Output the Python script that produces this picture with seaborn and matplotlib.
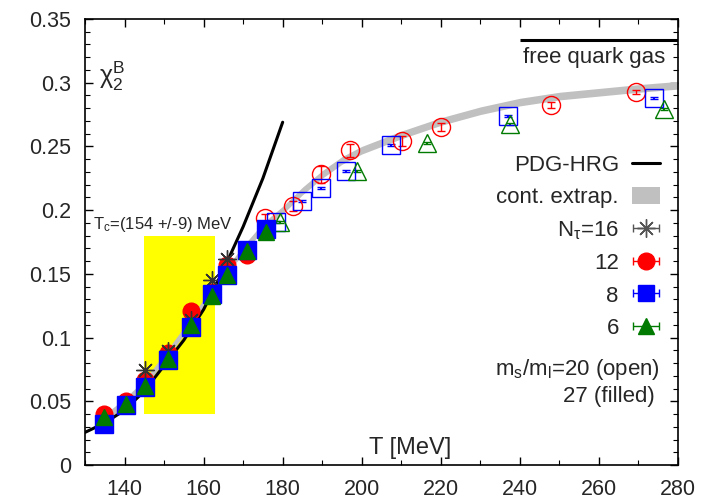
import numpy as np
import matplotlib
matplotlib.use("Agg")
import matplotlib.pyplot as plt
import seaborn as sns
from matplotlib.lines import Line2D
from matplotlib.patches import Patch
from matplotlib.legend_handler import HandlerErrorbar
from matplotlib.ticker import MultipleLocator

# PDG-HRG curve
hrg_T = [130, 135, 140, 145, 150, 155, 160, 165, 170, 175, 180]
hrg_chi = [0.0256, 0.033, 0.043, 0.058, 0.078, 0.098, 0.122, 0.153, 0.187, 0.225, 0.269]

# continuum extrapolation (band)
cont_T = [133, 135, 140, 145, 150, 155, 160, 165, 170, 175, 180, 185, 190, 195,
          200, 210, 220, 230, 240, 250, 260, 270, 280]
cont_chi = [0.033, 0.037, 0.049, 0.064, 0.084, 0.105, 0.127, 0.149, 0.169, 0.187,
            0.200, 0.215, 0.228, 0.239, 0.247, 0.259, 0.2695, 0.278, 0.2848,
            0.2895, 0.2925, 0.2955, 0.298]
cont_half = 0.003

# ms/ml = 27 (filled)
T27 = [134.7, 140.3, 145.1, 150.9, 156.8, 162.2, 166.0, 170.9, 175.7]
chi12_27 = [0.040, 0.050, 0.067, 0.088, 0.121, 0.136, 0.157, 0.165]
chi8_27 = [0.032, 0.047, 0.061, 0.0825, 0.108, 0.134, 0.149, 0.169, 0.185]
chi6_27 = [0.038, 0.048, 0.062, 0.083, 0.110, 0.133, 0.149, 0.168, 0.183]
T16 = [145.1, 150.9, 156.8, 162.0, 166.0]
chi16 = [0.0744, 0.0895, 0.114, 0.145, 0.162]

# ms/ml = 20 (open)
T12_20 = [175.5, 182.6, 189.6, 197.0, 210.2, 220.0, 247.8, 269.4]
chi12_20 = [0.194, 0.203, 0.228, 0.247, 0.2545, 0.265, 0.2825, 0.293]
err12_20 = [0.003, 0.004, 0.0065, 0.005, 0.004, 0.003, 0.002, 0.0015]
T8_20 = [178.3, 184.9, 189.6, 196.0, 207.3, 237.1, 273.9]
chi8_20 = [0.191, 0.207, 0.217, 0.231, 0.251, 0.274, 0.288]
T6_20 = [179.2, 198.7, 216.4, 237.6, 276.4]
chi6_20 = [0.191, 0.231, 0.253, 0.2675, 0.279]

# Tc band and free gas limit
Tc, dTc = 154, 9
tc_box = (0.04, 0.18)
sb_limit = 1 / 3
sb_T = (240, 280)

red, blue, green = "#ff0000", "#0000ff", "#007a00"
star = (8, 2, 0)

sns.set_style("ticks", {"xtick.direction": "in", "ytick.direction": "in"})
plt.rcParams["font.family"] = ["Liberation Sans", "DejaVu Sans"]
plt.rcParams["mathtext.default"] = "regular"

fig = plt.figure(figsize=(7.12, 5.01), dpi=100)
ax = fig.add_axes([85 / 712, 1 - 465 / 501, 593 / 712, 446 / 501])

ax.fill_between([Tc - dTc, Tc + dTc], tc_box[0], tc_box[1], color="#ffff00",
                lw=0, zorder=1)
lo = np.array(cont_chi) - cont_half
hi = np.array(cont_chi) + cont_half
ax.fill_between(cont_T, lo, hi, color="#c0c0c0", lw=0, zorder=2)
sns.lineplot(x=hrg_T, y=hrg_chi, ax=ax, color="black", lw=2.2, zorder=3)
ax.hlines(sb_limit, sb_T[0], sb_T[1], color="black", lw=2.2)

# open points
ax.errorbar(T12_20, chi12_20, yerr=err12_20, fmt="o", ms=13, mfc="none",
            mec=red, mew=1.0, color=red, elinewidth=1, capsize=3, zorder=4)
ax.errorbar(T8_20, chi8_20, yerr=0.0008, fmt="s", ms=13, mfc="none",
            mec=blue, mew=1.0, color=blue, elinewidth=1.5, capsize=3, zorder=4)
ax.errorbar(T6_20, chi6_20, yerr=0.0008, fmt="^", ms=13, mfc="none",
            mec=green, mew=1.0, color=green, elinewidth=1.5, capsize=3, zorder=4)

# filled points
ax.errorbar(T27[:len(chi12_27)], chi12_27, yerr=0.001, fmt="o", ms=12,
            color=red, capsize=2, zorder=5)
ax.plot(T16, chi16, ls="none", marker=star, ms=13, mew=1.0,
        color="#333333", zorder=6)
ax.errorbar(T27, chi8_27, yerr=0.001, fmt="s", ms=12.5, color=blue,
            capsize=2, zorder=7)
ax.errorbar(T27, chi6_27, yerr=0.001, fmt="^", ms=12, color=green,
            capsize=2, zorder=8)

# legend proxies
h_hrg = Line2D([], [], color="black", lw=2.2)
h_cont = Patch(color="#c0c0c0", lw=0)
h16 = ax.errorbar([np.nan], [np.nan], xerr=[1], ls="none", marker=star, ms=13,
                  color="#555555", mew=1.0, elinewidth=1, capsize=3)
h12 = ax.errorbar([np.nan], [np.nan], xerr=[1], fmt="o", ms=12,
                  color=red, elinewidth=1, capsize=3)
h8 = ax.errorbar([np.nan], [np.nan], xerr=[1], fmt="s", ms=11.5,
                 color=blue, elinewidth=1, capsize=3)
h6 = ax.errorbar([np.nan], [np.nan], xerr=[1], fmt="^", ms=11.5,
                 color=green, elinewidth=1, capsize=3)
leg = ax.legend([h_hrg, h_cont, h16, h12, h8, h6],
                ["PDG-HRG", "cont. extrap.", "N$_τ$=16", "12", "8", "6"],
                loc="upper right", bbox_to_anchor=(0.9696, 0.696),
                markerfirst=False, frameon=False, fontsize=16,
                handlelength=1.25, handleheight=0.8, handletextpad=0.6,
                labelspacing=0.5, borderpad=0, borderaxespad=0,
                handler_map={type(h12): HandlerErrorbar(xerr_size=0.6)})

ax.text(275.5, 0.0746, "m$_s$/m$_l$=20 (open)", ha="right", va="center",
        fontsize=16)
ax.text(274.2, 0.0534, "27 (filled)", ha="right", va="center", fontsize=16)
ax.text(276.7, 0.3195, "free quark gas", ha="right", va="center", fontsize=16)
ax.text(132.0, 0.1884, "T$_c$=(154 +/-9) MeV", ha="left", va="center",
        fontsize=12)
ax.text(133.6, 0.305, r"$χ_2^B$", ha="left", va="center", fontsize=18)
ax.text(212.2, 0.0133, "T [MeV]", ha="center", va="center", fontsize=17)

ax.set_xlim(130, 280)
ax.set_ylim(0, 0.35)
ax.xaxis.set_major_locator(MultipleLocator(20))
ax.xaxis.set_minor_locator(MultipleLocator(10))
ax.yaxis.set_major_locator(MultipleLocator(0.05))
ax.yaxis.set_minor_locator(MultipleLocator(0.01))
ax.set_xticks(np.arange(140, 281, 20))
ax.set_yticks(np.arange(0, 0.351, 0.05))
ax.set_yticklabels(["0", "0.05", "0.1", "0.15", "0.2", "0.25", "0.3", "0.35"])
ax.tick_params(which="both", direction="in", top=True, right=True,
               labelsize=15.5, color="black")
ax.tick_params(which="major", length=6, width=1, pad=10)
ax.tick_params(which="minor", length=3.5, width=0.8)
ax.set_xlabel("")
ax.set_ylabel("")
for s in ax.spines.values():
    s.set_linewidth(1.2)
    s.set_color("black")

fig.savefig("out.png", dpi=100)
